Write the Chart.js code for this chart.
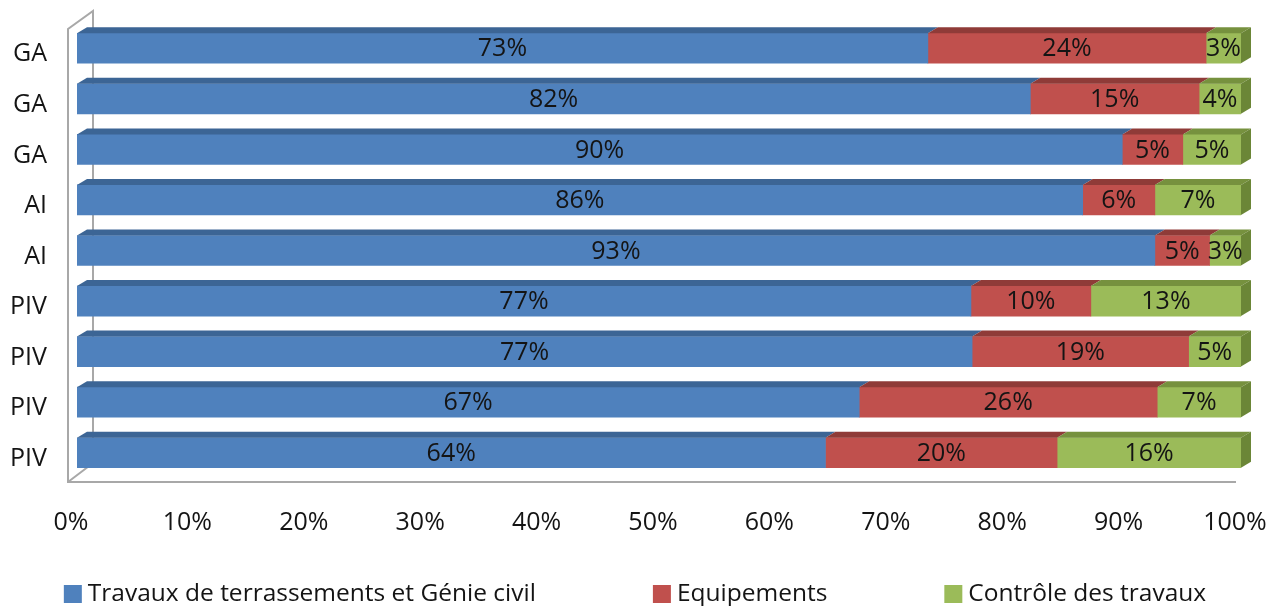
<!DOCTYPE html>
<html><head><meta charset="utf-8">
<script src="https://cdn.jsdelivr.net/npm/chart.js@4.4.1/dist/chart.umd.min.js"></script>
<style>html,body{margin:0;padding:0;background:#fff;}canvas{display:block;}</style>
</head><body>
<canvas id="c" width="1270" height="606"></canvas>
<script>
const categories = ['GA','GA','GA','AI','AI','PIV','PIV','PIV','PIV'];
const seriesNames = ['Travaux de terrassements et Génie civil','Equipements','Contrôle des travaux'];
const travaux = [73.1, 81.9, 89.8, 86.4, 92.6, 76.8, 76.9, 67.2, 64.3];
const equipements = [23.9, 14.5, 5.2, 6.2, 4.7, 10.3, 18.6, 25.6, 19.9];
const controle = [3.0, 3.6, 5.0, 7.4, 2.7, 12.9, 4.5, 7.2, 15.8];
const xTickLabels = ['0%','10%','20%','30%','40%','50%','60%','70%','80%','90%','100%'];

const colors = ['#4F81BD','#C0504D','#9BBB59'];
const topColors = ['#3C6595','#8F3B38','#76913E'];
const sideColor = '#6B8637';
const FONT = '"Open Sans", "Liberation Sans", sans-serif';
const FS_NUM = 25, FS_CAT = 25, FS_LEG = 24.5;
const DX = 10, DY = 6;

const raw = [travaux, equipements, controle];
const totals = categories.map((_, i) => travaux[i] + equipements[i] + controle[i]);

const datasets = raw.map((arr, k) => ({
  label: seriesNames[k],
  data: arr.map((v, i) => v / totals[i] * 100),
  rawValues: arr,
  backgroundColor: colors[k],
  borderWidth: 0,
  barThickness: 30
}));

const bar3d = {
  id: 'bar3d',
  beforeDatasetsDraw(chart) {
    const {ctx, chartArea: a} = chart;
    ctx.save();
    ctx.strokeStyle = '#a8a8a8';
    ctx.lineWidth = 2;
    const fx = a.left - 9, bx = fx + 25;
    ctx.beginPath();
    ctx.moveTo(a.right - 5, a.bottom + 4);
    ctx.lineTo(fx, a.bottom + 4);
    ctx.lineTo(fx, a.top + 6);
    ctx.lineTo(bx, a.top - 12);
    ctx.lineTo(bx, a.bottom - 15);
    ctx.lineTo(fx, a.bottom + 4);
    ctx.stroke();
    ctx.restore();
  },
  afterDatasetsDraw(chart) {
    const ctx = chart.ctx;
    const n = chart.data.datasets.length;
    ctx.save();
    chart.data.datasets.forEach((ds, di) => {
      const meta = chart.getDatasetMeta(di);
      meta.data.forEach((el) => {
        const p = el.getProps(['x','y','base','height'], true);
        const t = p.y - p.height / 2, b = p.y + p.height / 2;
        const l = Math.min(p.x, p.base), r = Math.max(p.x, p.base);
        ctx.fillStyle = topColors[di];
        ctx.beginPath();
        ctx.moveTo(l, t); ctx.lineTo(r, t); ctx.lineTo(r + DX, t - DY); ctx.lineTo(l + DX, t - DY);
        ctx.closePath(); ctx.fill();
        if (di === n - 1) {
          ctx.fillStyle = sideColor;
          ctx.beginPath();
          ctx.moveTo(r, t); ctx.lineTo(r + DX, t - DY); ctx.lineTo(r + DX, b - DY); ctx.lineTo(r, b);
          ctx.closePath(); ctx.fill();
        }
      });
    });
    ctx.fillStyle = '#141414';
    ctx.font = FS_NUM + 'px ' + FONT;
    ctx.textAlign = 'center';
    ctx.textBaseline = 'middle';
    chart.data.datasets.forEach((ds, di) => {
      const meta = chart.getDatasetMeta(di);
      meta.data.forEach((el, i) => {
        const p = el.getProps(['x','y','base'], true);
        ctx.fillText(Math.round(ds.rawValues[i]) + '%', (p.x + p.base) / 2, p.y + 1);
      });
    });
    ctx.restore();
  }
};

const legendPlugin = {
  id: 'customLegend',
  afterDraw(chart) {
    const ctx = chart.ctx;
    ctx.save();
    ctx.font = FS_LEG + 'px ' + FONT;
    const box = 18, gapText = 6, gapItem = 117;
    const items = chart.data.datasets.map((ds, i) => ({text: ds.label, color: colors[i], w: box + gapText + ctx.measureText(ds.label).width}));
    const total = items.reduce((s, it) => s + it.w, 0) + gapItem * (items.length - 1);
    let x = (chart.width - total) / 2;
    const y = 594;
    ctx.textBaseline = 'middle';
    ctx.textAlign = 'left';
    items.forEach(it => {
      ctx.fillStyle = it.color;
      ctx.fillRect(x, y - box / 2, box, box);
      ctx.fillStyle = '#141414';
      ctx.fillText(it.text, x + box + gapText, y);
      x += it.w + gapItem;
    });
    ctx.restore();
  }
};

function build() {
  new Chart(document.getElementById('c'), {
    type: 'bar',
    data: {labels: categories, datasets},
    options: {
      indexAxis: 'y',
      responsive: false,
      devicePixelRatio: 1,
      animation: false,
      layout: {padding: {top: 23, right: 29, left: 0, bottom: 0}},
      plugins: {legend: {display: false}, tooltip: {enabled: false}},
      scales: {
        x: {
          stacked: true, min: 0, max: 100,
          grid: {display: false, drawTicks: false},
          border: {display: false},
          ticks: {stepSize: 10, padding: 30, labelOffset: -6, color: '#141414',
            font: {family: FONT, size: FS_NUM},
            callback: (v, i) => xTickLabels[i]},
          afterFit: (s) => { s.height = 128; s.paddingLeft = 0; s.paddingRight = 0; }
        },
        y: {
          stacked: true,
          grid: {display: false, drawTicks: false},
          border: {display: false},
          ticks: {padding: 30, labelOffset: 6, color: '#141414', font: {family: FONT, size: FS_CAT}},
          afterFit: (s) => { s.width = 77; s.paddingTop = 0; s.paddingBottom = 0; }
        }
      }
    },
    plugins: [bar3d, legendPlugin]
  });
}
if (document.fonts && document.fonts.load) {
  document.fonts.load(FS_NUM + 'px "Open Sans"').then(build, build);
} else build();
</script>
</body></html>
